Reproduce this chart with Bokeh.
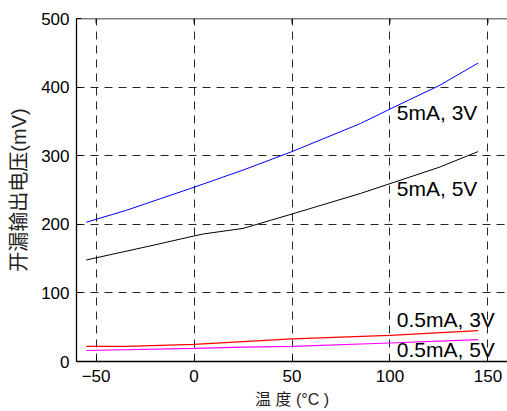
import math
from bokeh.plotting import figure
from bokeh.models import FixedTicker, Range1d, ColumnDataSource, Span
from bokeh.core.properties import value
from bokeh.embed import file_html
from bokeh.resources import INLINE

# ---- data ----
temp_5mA_3V = [-55, -35, 0, 25, 50, 85, 100, 125, 145]
mv_5mA_3V = [203, 220, 254, 279, 306, 347, 368, 402, 435]

temp_5mA_5V = [-55, -20, 0, 5, 25, 50, 85, 125, 145]
mv_5mA_5V = [148, 170, 183, 186, 194, 215, 245, 283, 306]

temp_05mA_3V = [-55, -35, 0, 25, 50, 100, 145]
mv_05mA_3V = [22, 22, 25, 29, 33, 38, 45]

temp_05mA_5V = [-55, 0, 25, 50, 100, 145]
mv_05mA_5V = [16, 19, 21, 22, 27, 32]

x_ticks = [-50, 0, 50, 100, 150]
y_ticks = [0, 100, 200, 300, 400, 500]

label_texts = ["5mA, 3V", "5mA, 5V", "0.5mA, 3V", "0.5mA, 5V"]
label_x = [103.5, 103.5, 103.5, 103.5]
label_y = [363, 251.5, 61, 17]

x_title = "温 度 (°C )"
y_title = "开漏输出电压(mV)"

MIXED = "'Liberation Sans', 'Noto Sans CJK SC', sans-serif"

# ---- figure ----
p = figure(width=507, height=411,
           x_range=Range1d(-60, 160), y_range=Range1d(0, 500),
           output_backend="svg", toolbar_location=None,
           min_border_left=76, min_border_right=0,
           min_border_top=18, min_border_bottom=50)
p.background_fill_color = "white"
p.border_fill_color = "white"
p.outline_line_color = None

p.xaxis.ticker = FixedTicker(ticks=x_ticks)
p.yaxis.ticker = FixedTicker(ticks=y_ticks)

for ax in (p.xaxis[0], p.yaxis[0]):
    ax.major_tick_in = 5
    ax.major_tick_out = 0
    ax.minor_tick_line_color = None
    ax.axis_line_color = "black"
    ax.axis_line_width = 1.3
    ax.major_tick_line_color = "black"
    ax.major_label_text_font = "Liberation Sans"
    ax.major_label_text_font_size = "17px"
    ax.major_label_text_color = "black"
    ax.axis_label_text_font = MIXED
    ax.axis_label_text_font_style = "normal"
    ax.axis_label_text_color = "#222222"

p.xaxis.major_label_standoff = 8
p.xaxis.axis_label = x_title
p.xaxis.axis_label_text_font_size = "16px"
p.xaxis.axis_label_standoff = 6

p.yaxis.major_label_standoff = 7
p.yaxis.axis_label = y_title
p.yaxis.axis_label_text_font_size = "20px"
p.yaxis.axis_label_standoff = 8

# top edge of the box with inward ticks
p.add_layout(Span(location=500, dimension="width", line_color="black", line_width=1.3))
p.ray(x=x_ticks, y=[500] * len(x_ticks), length=5, length_units="screen",
      angle=-math.pi / 2, line_color="black", line_width=1)

for g, t in ((p.xgrid[0], x_ticks), (p.ygrid[0], y_ticks)):
    g.ticker = FixedTicker(ticks=t)
    g.grid_line_color = "black"
    g.grid_line_alpha = 0.85
    g.grid_line_dash = "8 6"
    g.grid_line_width = 1

p.line(temp_5mA_3V, mv_5mA_3V, line_color="#0000ff", line_width=1)
p.line(temp_5mA_5V, mv_5mA_5V, line_color="black", line_width=1)
p.line(temp_05mA_3V, mv_05mA_3V, line_color="#ff0000", line_width=1.2)
p.line(temp_05mA_5V, mv_05mA_5V, line_color="#ff00ff", line_width=1.2)

src = ColumnDataSource(dict(x=label_x, y=label_y, t=label_texts))
p.text(x="x", y="y", text="t", source=src,
       text_font=value("Liberation Sans"), text_font_size="21px",
       text_color="black", text_baseline="middle", text_align="left")

open("out.html", "w").write(file_html(p, INLINE))
